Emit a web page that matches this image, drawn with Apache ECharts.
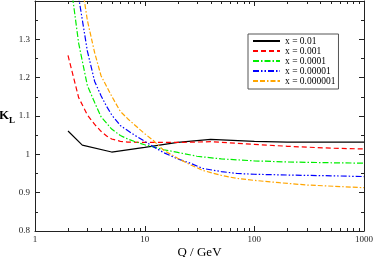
<!DOCTYPE html>
<html>
<head>
<meta charset="utf-8">
<script src="https://cdn.jsdelivr.net/npm/echarts@6/dist/echarts.min.js"></script>
<style>
html,body{margin:0;padding:0;background:#fff;}
#c{width:374px;height:257px;}
</style>
</head>
<body>
<div id="c"></div>
<script>
// ---- data ----
const seriesNames = ['x = 0.01', 'x = 0.001', 'x = 0.0001', 'x = 0.00001', 'x = 0.000001'];

const qA = [2, 2.7, 5, 10, 20, 40, 100, 200, 1000];
const kA = [1.061, 1.024, 1.006, 1.018, 1.031, 1.039, 1.034, 1.032, 1.032];

const qB = [2, 2.5, 3, 3.5, 4, 4.5, 5, 6, 7, 10, 20, 40, 100, 200, 500, 1000];
const kB = [1.258, 1.148, 1.103, 1.078, 1.06, 1.048, 1.04, 1.034, 1.032, 1.031, 1.031, 1.033, 1.026, 1.021, 1.016, 1.014];

const qC = [2, 2.5, 3, 3.5, 4, 5, 6, 7, 8, 10, 15, 20, 30, 50, 100, 200, 500, 1000];
const kC = [1.50, 1.29, 1.18, 1.135, 1.098, 1.066, 1.049, 1.040, 1.034, 1.025, 1.012, 1.005, 0.995, 0.988, 0.983, 0.980, 0.978, 0.977];

const qD = [2, 2.5, 3, 3.5, 4, 4.5, 5, 6, 7, 8, 10, 12, 15, 20, 26, 34, 50, 70, 100, 200, 500, 1000];
const kD = [1.62, 1.41, 1.27, 1.19, 1.153, 1.125, 1.103, 1.075, 1.062, 1.051, 1.034, 1.02, 1.004, 0.988, 0.977, 0.963, 0.955, 0.950, 0.948, 0.946, 0.944, 0.942];

const qE = [2.5, 3, 3.5, 4, 5, 6, 7, 8, 10, 12, 15, 20, 26, 34, 50, 70, 100, 170, 300, 1000];
const kE = [1.50, 1.35, 1.265, 1.205, 1.152, 1.112, 1.093, 1.078, 1.054, 1.036, 1.010, 0.990, 0.973, 0.958, 0.945, 0.937, 0.932, 0.926, 0.920, 0.913];

const xMajorTicks = [10, 100];
const xMinorTicks = [2, 3, 4, 5, 6, 7, 8, 9, 20, 30, 40, 50, 60, 70, 80, 90, 200, 300, 400, 500, 600, 700, 800, 900];
const yMin = 0.8, yMax = 1.4, yStep = 0.1;

const colors = ['#000000', '#ff0000', '#00ee00', '#0000ff', '#ffa500'];
const dashes = ['solid', [5, 3], [6, 2, 1.5, 2], [6, 2, 1.5, 2, 1.5, 2], [5, 2, 5, 2, 1.5, 2]];

// ---- chart ----
const pairs = (q, k) => q.map((v, i) => [v, k[i]]);
const allQ = [qA, qB, qC, qD, qE];
const allK = [kA, kB, kC, kD, kE];

const serif = 'Liberation Serif';
const axisCol = '#222';

function xAxisDef(pos, labels) {
  return {
    type: 'log', logBase: 10, min: 1, max: 1000, position: pos,
    axisLine: { show: true, lineStyle: { color: axisCol, width: 1 } },
    axisTick: { show: false },
    axisLabel: labels ? { show: true, fontFamily: serif, fontSize: 9, color: '#222', margin: 4,
                          formatter: v => String(Math.round(v)) } : { show: false },
    splitLine: { show: false },
    minorTick: { show: false },
    name: labels ? 'Q / GeV' : '',
    nameLocation: 'middle', nameGap: 15, nameMoveOverlap: false,
    nameTextStyle: { fontFamily: serif, fontSize: 13, color: '#000', verticalAlign: 'top' }
  };
}
function yAxisDef(pos, labels) {
  return {
    type: 'value', min: yMin, max: yMax, interval: yStep, position: pos,
    axisLine: { show: true, lineStyle: { color: axisCol, width: 1 } },
    axisTick: { show: true, inside: true, length: 5, lineStyle: { color: axisCol, width: 1 } },
    minorTick: { show: true, splitNumber: 2, length: 3, lineStyle: { color: axisCol, width: 1 } },
    axisLabel: labels ? { show: true, fontFamily: serif, fontSize: 9, color: '#222', margin: 5, showMaxLabel: false } : { show: false },
    splitLine: { show: false },
    name: labels ? '{k|K}{l|L}' : '',
    nameLocation: 'middle', nameRotate: 0, nameGap: 20, nameMoveOverlap: false,
    nameTextStyle: {
      align: 'right',
      rich: {
        k: { fontFamily: serif, fontSize: 13, fontWeight: 'bold', color: '#000' },
        l: { fontFamily: serif, fontSize: 9, fontWeight: 'bold', color: '#000', padding: [9, 0, 0, 0] }
      }
    }
  };
}

const tickData = xMajorTicks.map(q => [q, yMin, 5]).concat(xMinorTicks.map(q => [q, yMin, 3]));

const chart = echarts.init(document.getElementById('c'), null, { renderer: 'canvas' });
chart.setOption({
  animation: false,
  backgroundColor: '#fff',
  grid: { left: 35, top: 1, width: 329, height: 230, containLabel: false, outerBoundsMode: 'none' },
  xAxis: [xAxisDef('bottom', true), xAxisDef('top', false)],
  yAxis: [yAxisDef('left', true), yAxisDef('right', false)],
  legend: {
    orient: 'vertical', left: 248, top: 34,
    data: seriesNames,
    itemWidth: 27, itemHeight: 8, itemGap: 0,
    padding: [2, 3, 3, 4],
    borderColor: '#555', borderWidth: 1,
    itemStyle: { opacity: 0 },
    textStyle: { fontFamily: serif, fontSize: 9.5, color: '#000' }
  },
  series: seriesNames.map((n, i) => ({
    name: n, type: 'line', xAxisIndex: 0, yAxisIndex: 0,
    data: pairs(allQ[i], allK[i]),
    symbol: 'none', clip: true, smooth: false,
    lineStyle: { color: colors[i], width: 1.2, type: dashes[i] },
    itemStyle: { color: colors[i] }
  })).concat([{
    name: 'xTicks', type: 'custom', xAxisIndex: 0, yAxisIndex: 0,
    silent: true, clip: false,
    data: tickData,
    encode: { x: 0, y: 1 },
    renderItem: function (params, api) {
      const q = api.value(0);
      const len = api.value(2);
      const b = api.coord([q, yMin]);
      const t = api.coord([q, yMax]);
      const x = Math.round(b[0]) + 0.5;
      const st = { stroke: axisCol, lineWidth: 1 };
      return { type: 'group', children: [
        { type: 'line', shape: { x1: x, y1: b[1], x2: x, y2: b[1] - len }, style: st },
        { type: 'line', shape: { x1: x, y1: t[1], x2: x, y2: t[1] + len }, style: st }
      ] };
    }
  }])
});
</script>
</body>
</html>
